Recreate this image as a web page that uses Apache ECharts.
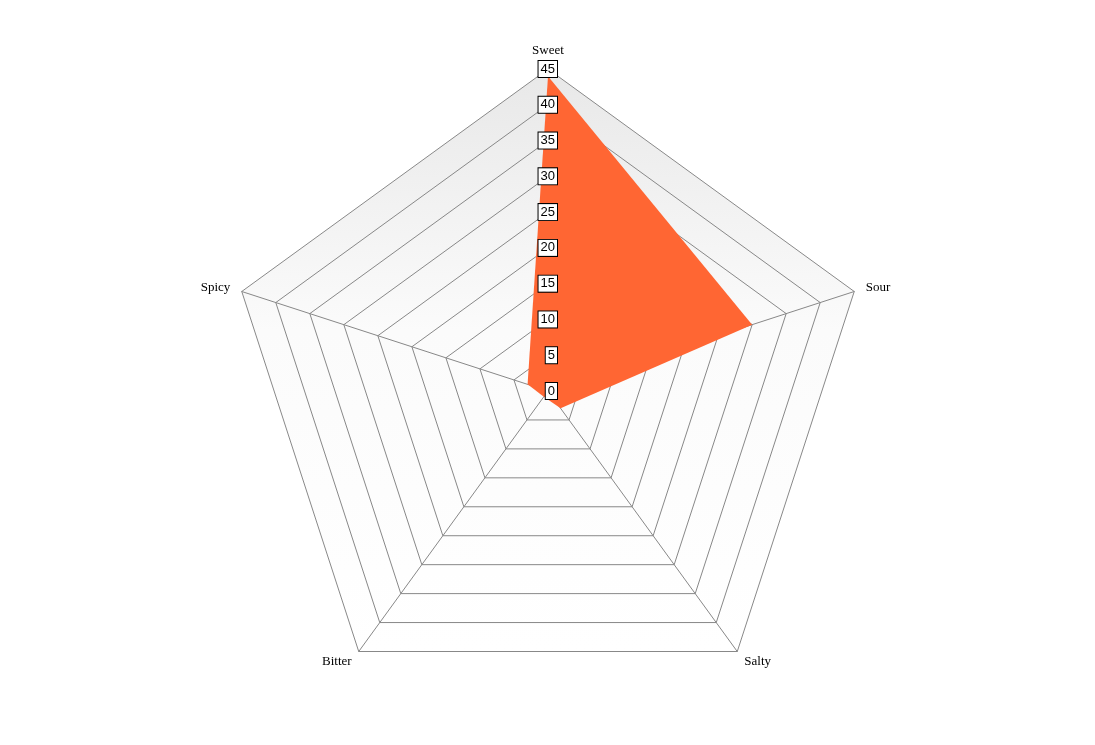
<!DOCTYPE html>
<html><head><meta charset="utf-8">
<script src="https://cdn.jsdelivr.net/npm/echarts@6/dist/echarts.min.js"></script>
<style>html,body{margin:0;background:#fff}#c{width:1095px;height:745px}</style>
</head><body><div id="c"></div>
<script>
// listed counterclockwise from top (ECharts radar goes counterclockwise)
const indicators = ['Sweet', 'Spicy', 'Bitter', 'Salty', 'Sour'];
const values = [44, 3, 1, 3, 30];
const maxValue = 45;
const chart = echarts.init(document.getElementById('c'));
const base = {
  center: [548, 391],
  radius: 322,
  startAngle: 90,
  splitNumber: 9,
  nameGap: 12
};
chart.setOption({
  animation: false,
  radar: [Object.assign({}, base, {
    z: 1,
    indicator: indicators.map(n => ({name: n, min: 0, max: maxValue})),
    axisName: {color: '#000', fontFamily: 'Liberation Serif', fontSize: 13},
    axisLine: {lineStyle: {color: '#888'}},
    splitLine: {lineStyle: {color: '#888'}},
    splitArea: {show: true, areaStyle: {color: [new echarts.graphic.LinearGradient(0, 0, 0, 1, [{offset: 0, color: '#e8e8e8'}, {offset: 0.45, color: '#fbfbfb'}, {offset: 1, color: '#ffffff'}])]}},
    axisTick: {show: false},
    axisLabel: {show: false}
  }), Object.assign({}, base, {
    z: 5,
    indicator: indicators.map((n, i) => ({name: '', min: 0, max: maxValue, axisLabel: {show: i === 0}})),
    axisLine: {show: false},
    splitLine: {show: false},
    splitArea: {show: false},
    axisTick: {show: false},
    axisLabel: {show: false, color: '#000', fontFamily: 'Liberation Sans', fontSize: 13,
      backgroundColor: '#fff', borderColor: '#000', borderWidth: 1, padding: [2, 2, 1, 2], margin: -9, showMinLabel: true}
  })],
  graphic: [],
  series: [{
    type: 'radar',
    radarIndex: 0,
    z: 2,
    symbol: 'none',
    lineStyle: {width: 0},
    areaStyle: {color: '#ff6633', opacity: 1},
    data: [{value: values}]
  }]
});
// black Sweet axis line over the fill
const c = chart.convertToPixel({radarIndex: 0}, [0, 0]);
</script></body></html>
